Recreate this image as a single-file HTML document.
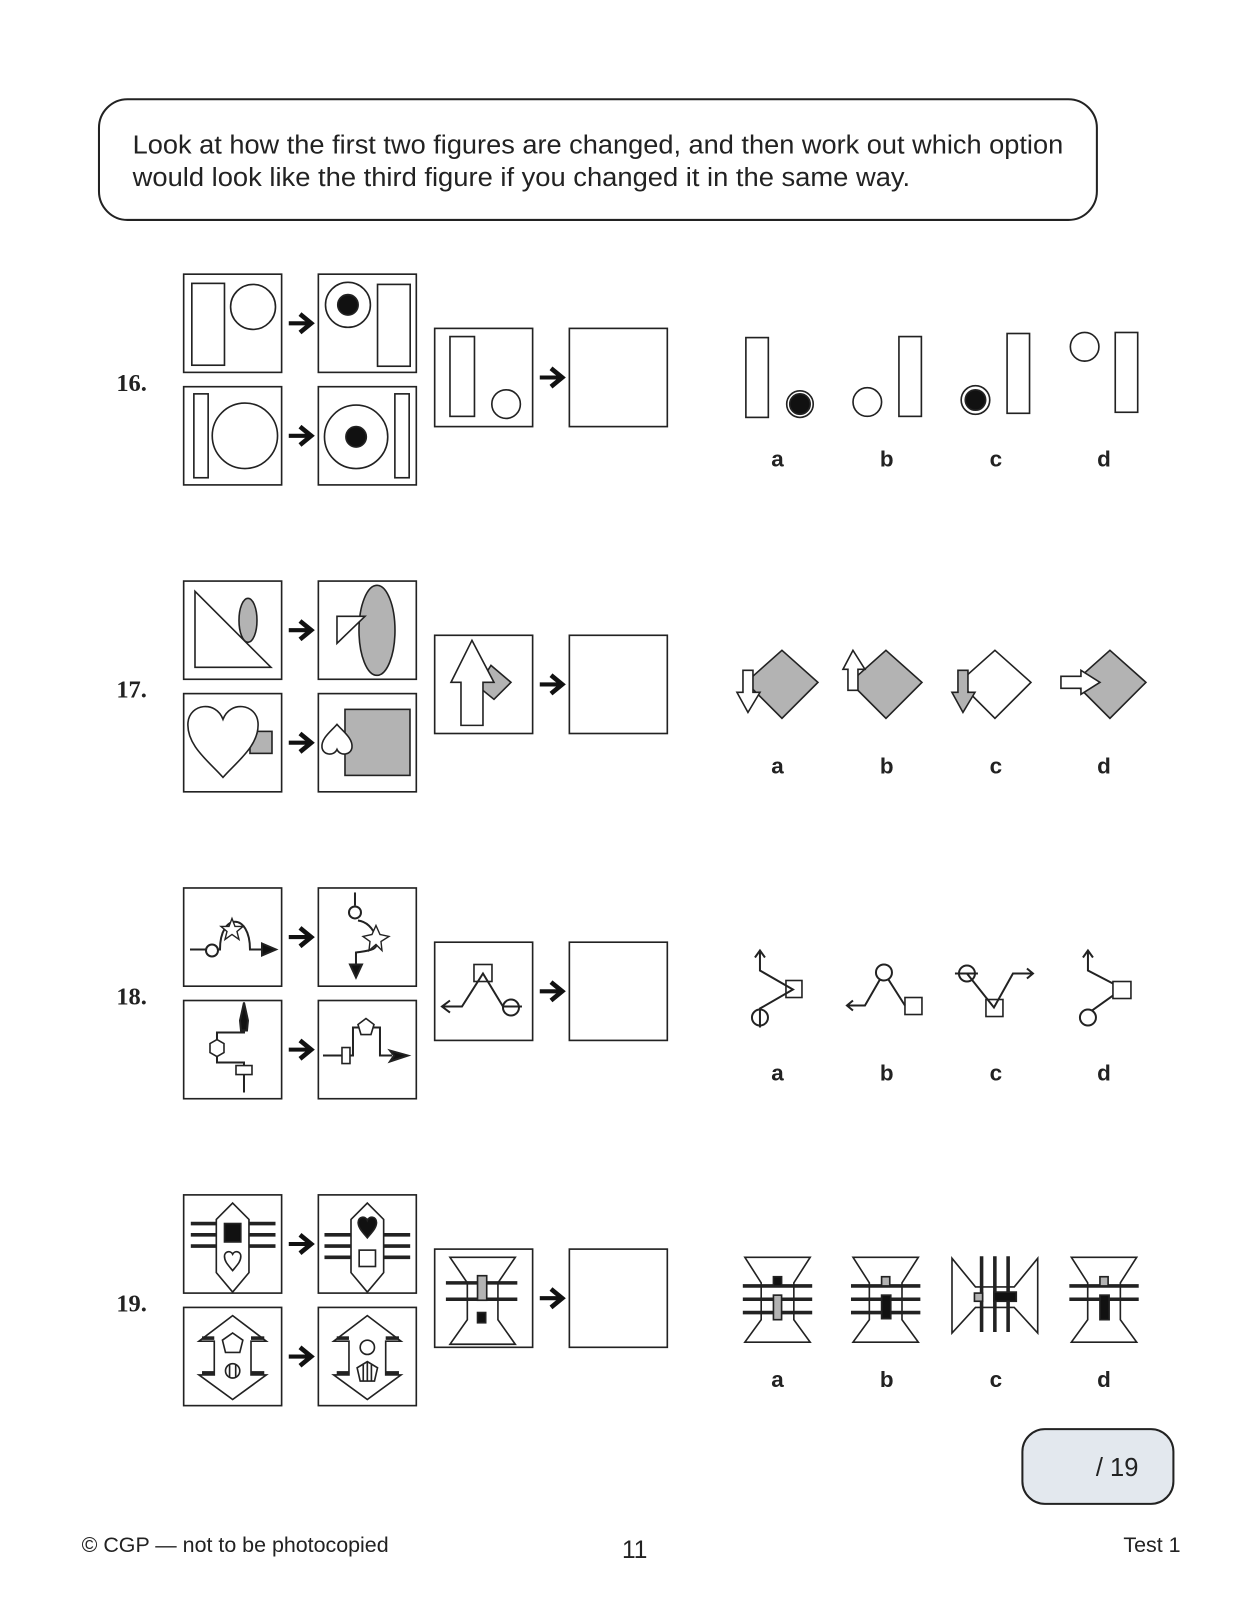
<!DOCTYPE html>
<html><head><meta charset="utf-8"><style>
html,body{margin:0;padding:0;background:#fff;}
svg{display:block;}
</style></head><body>
<svg width="1253" height="1600" viewBox="0 0 1228 1564" preserveAspectRatio="none" xmlns="http://www.w3.org/2000/svg">
<defs>
<g id="ar"><line x1="0" y1="0" x2="20" y2="0" stroke="#111" stroke-width="4"/><polyline points="11,-9 22,0 11,9" fill="none" stroke="#111" stroke-width="4.5"/></g>
</defs>
<rect width="1228" height="1564" fill="#fff"/>
<rect x="97" y="97" width="978" height="118" rx="28" fill="none" stroke="#222" stroke-width="2"/>
<g font-family="Liberation Sans, sans-serif" font-size="25" fill="#222">
<text x="130" y="150" textLength="912" lengthAdjust="spacingAndGlyphs">Look at how the first two figures are changed, and then work out which option</text>
<text x="130" y="182" textLength="762" lengthAdjust="spacingAndGlyphs">would look like the third figure if you changed it in the same way.</text>
</g>
<g font-family="Liberation Serif, serif" font-weight="bold" font-size="24" fill="#222">
<text x="114" y="382">16.</text><text x="114" y="682">17.</text><text x="114" y="982">18.</text><text x="114" y="1282">19.</text>
</g>
<g font-family="Liberation Sans, sans-serif" font-weight="bold" font-size="22" fill="#222" text-anchor="middle">
<text x="762" y="456">a</text><text x="869" y="456">b</text><text x="976" y="456">c</text><text x="1082" y="456">d</text>
<text x="762" y="756">a</text><text x="869" y="756">b</text><text x="976" y="756">c</text><text x="1082" y="756">d</text>
<text x="762" y="1056">a</text><text x="869" y="1056">b</text><text x="976" y="1056">c</text><text x="1082" y="1056">d</text>
<text x="762" y="1356">a</text><text x="869" y="1356">b</text><text x="976" y="1356">c</text><text x="1082" y="1356">d</text>
</g>
<g fill="none" stroke="#222" stroke-width="1.6">
<g id="boxes">
<rect x="180" y="268" width="96" height="96"/><rect x="312" y="268" width="96" height="96"/>
<rect x="180" y="378" width="96" height="96"/><rect x="312" y="378" width="96" height="96"/>
<rect x="426" y="321" width="96" height="96"/><rect x="558" y="321" width="96" height="96"/>
</g>
<use href="#boxes" y="300"/><use href="#boxes" y="600"/><use href="#boxes" y="900"/>
</g>
<g id="arrows"><use href="#ar" x="283" y="316"/><use href="#ar" x="283" y="426"/><use href="#ar" x="529" y="369"/></g>
<use href="#arrows" y="300"/><use href="#arrows" y="600"/><use href="#arrows" y="900"/>

<!-- Row 16 -->
<g stroke="#222" stroke-width="1.6" fill="#fff">
<rect x="188" y="277" width="32" height="80"/><circle cx="248" cy="300" r="22"/>
<circle cx="341" cy="298" r="22"/><circle cx="341" cy="298" r="10" fill="#111"/><rect x="370" y="278" width="32" height="80"/>
<rect x="190" y="385" width="14" height="82"/><circle cx="240" cy="426" r="32"/>
<circle cx="349" cy="427" r="31"/><circle cx="349" cy="427" r="10" fill="#111"/><rect x="387" y="385" width="14" height="82"/>
<rect x="441" y="329" width="24" height="78"/><circle cx="496" cy="395" r="14"/>
<rect x="731" y="330" width="22" height="78"/><circle cx="784" cy="395" r="13"/><circle cx="784" cy="395" r="10" fill="#111"/>
<circle cx="850" cy="393" r="14"/><rect x="881" y="329" width="22" height="78"/>
<circle cx="956" cy="391" r="14"/><circle cx="956" cy="391" r="10" fill="#111"/><rect x="987" y="326" width="22" height="78"/>
<circle cx="1063" cy="339" r="14"/><rect x="1093" y="325" width="22" height="78"/>
</g>

<g transform="scale(0.98,0.978)">
<!-- Row 17 -->
<g stroke="#222" stroke-width="1.6" fill="#fff">
<ellipse cx="248" cy="620" rx="9" ry="22" fill="#b3b3b3"/>
<polygon points="195,591 195,667 271,667" fill="none"/>
<ellipse cx="377" cy="630" rx="18" ry="45" fill="#b3b3b3"/>
<polygon points="337,616 365,616 337,643"/>
<rect x="250" y="731" width="22" height="22" fill="#b3b3b3"/>
<path d="M223,777 C210,762 186,745 188,722 C190,703 216,700 223,719 C230,700 256,703 258,722 C260,745 236,762 223,777 Z"/>
<rect x="345" y="709" width="65" height="66" fill="#b3b3b3"/>
<path d="M337,724 C331,731 321,738 322,747 C323,755 334,756 337,749 C340,756 351,755 352,747 C353,738 343,731 337,724 Z"/>
<polygon points="491,665 511,682 494,699 478,686" fill="#b3b3b3"/>
<polygon points="472,640 451,682 461,682 461,725 483,725 483,682 494,682"/>
<g transform="translate(0,-38)">
<polygon points="782,688 818,720 782,756 746,720" fill="#b3b3b3"/>
<polygon points="743,708 753,708 753,730 760,730 748,750 737,730 743,730"/>
<polygon points="886,688 922,720 886,756 850,720" fill="#b3b3b3"/>
<polygon points="848,728 858,728 858,707 865,707 853,688 843,707 848,707"/>
<polygon points="995,688 1031,720 995,756 959,720"/>
<polygon points="958,708 968,708 968,730 975,730 963,750 952,730 958,730" fill="#b3b3b3"/>
<polygon points="1110,688 1146,720 1110,756 1074,720" fill="#b3b3b3"/>
<polygon points="1061,714 1081,714 1081,708 1100,720 1081,732 1081,726 1061,726"/>
</g>
</g>

<!-- Row 18 -->
<g stroke="#222" stroke-width="2" fill="none">
<path d="M190,949 H220 C220,912 250,912 250,949 H262"/><circle cx="212" cy="950" r="6" fill="#fff"/>
<polygon points="262,943 276,949 262,955" fill="#111"/>
<polygon points="232,918 235,926 243,926 237,931 239,939 232,934 225,939 227,931 221,926 229,926" fill="#fff" stroke-width="1.4"/>
<path d="M355,892 V905"/><circle cx="355" cy="912" r="6" fill="#fff"/>
<path d="M358,920 C375,922 378,945 377,937 M377,940 C378,950 370,950 356,952 V965"/>
<polygon points="350,964 362,964 356,977" fill="#111"/>
<polygon points="376,925 380,934 389,936 381,941 382,950 376,944 369,950 370,941 363,936 372,934" fill="#fff" stroke-width="1.4"/>
<path d="M244,1092 V1062 H217 V1032 H244 V1015"/>
<polygon points="240,1020 244,1002 248,1020 247,1030 241,1030" fill="#111"/>
<polygon points="217,1039 224,1043 224,1052 217,1056 210,1052 210,1043" fill="#fff" stroke-width="1.6"/>
<rect x="236" y="1065" width="16" height="9" fill="#fff" stroke-width="1.6"/>
<path d="M323,1055 H353 V1027 H380 V1055 H392"/>
<rect x="342" y="1047" width="8" height="16" fill="#fff" stroke-width="1.6"/>
<polygon points="366,1018 374,1024 371,1034 361,1034 358,1024" fill="#fff" stroke-width="1.6"/>
<polygon points="390,1050 408,1055 390,1061 394,1055" fill="#111"/>
<path d="M442,1006 H462 L483,973 L503,1006 H522"/>
<polyline points="450,1000 442,1006 450,1012"/>
<rect x="474" y="964" width="18" height="17" stroke-width="1.6"/>
<circle cx="511" cy="1007" r="8"/>
<path d="M760,951 V970 L793,989 L760,1008 V1027"/><polyline points="755,957 760,950 765,957"/>
<rect x="786" y="980" width="16" height="17" stroke-width="1.6"/><circle cx="760" cy="1017" r="8"/>
<path d="M847,1005 H865 L884,972 L905,1005"/><polyline points="853,1000 847,1005 853,1010"/>
<circle cx="884" cy="972" r="8" fill="#fff"/><rect x="905" y="997" width="17" height="17" stroke-width="1.6"/>
<path d="M955,973 H978 M967,973 L994,1007 L1013,973 H1033"/><polyline points="1027,968 1033,973 1027,978"/>
<circle cx="967" cy="973" r="8"/><rect x="986" y="999" width="17" height="17" stroke-width="1.6"/>
<path d="M1088,951 V970 L1113,983 M1113,995 L1092,1010"/><polyline points="1083,957 1088,950 1093,957"/>
<rect x="1113" y="981" width="18" height="17" stroke-width="1.6"/><circle cx="1088" cy="1017" r="8"/>
</g>
</g>

<!-- Row 19 -->
<g stroke="#222" stroke-width="1.6" fill="#fff">
<g stroke-width="3.5"><line x1="187" y1="1196" x2="270" y2="1196"/><line x1="187" y1="1207" x2="270" y2="1207"/><line x1="187" y1="1218" x2="270" y2="1218"/></g>
<polygon points="228,1176 244,1192 244,1244 228,1263 212,1244 212,1192"/>
<rect x="220" y="1196" width="16" height="18" fill="#111"/>
<path d="M228,1242 C223,1236 220,1233 220,1228 C220,1223 226,1222 228,1226 C230,1222 236,1223 236,1228 C236,1233 233,1236 228,1242Z"/>
<g stroke-width="3.5"><line x1="318" y1="1207" x2="402" y2="1207"/><line x1="318" y1="1218" x2="402" y2="1218"/><line x1="318" y1="1229" x2="402" y2="1229"/></g>
<polygon points="360,1176 376,1192 376,1244 360,1263 344,1244 344,1192"/>
<path d="M360,1210 C355,1204 351,1200 351,1195 C351,1189 358,1188 360,1193 C362,1188 369,1189 369,1195 C369,1200 365,1204 360,1210Z" fill="#111"/>
<rect x="352" y="1222" width="16" height="16"/>
<polygon points="228,1286 261,1311 246,1311 246,1344 261,1344 228,1368 195,1344 210,1344 210,1311 195,1311"/>
<g stroke-width="3.5"><line x1="198" y1="1308" x2="210" y2="1308"/><line x1="246" y1="1308" x2="259" y2="1308"/><line x1="198" y1="1342" x2="210" y2="1342"/><line x1="246" y1="1342" x2="259" y2="1342"/></g>
<polygon points="228,1303 238,1310 235,1322 221,1322 218,1310"/>
<circle cx="228" cy="1340" r="7"/><path d="M225,1334 V1346 M231,1334 V1346" fill="none"/>
<polygon points="360,1286 393,1311 378,1311 378,1344 393,1344 360,1368 327,1344 342,1344 342,1311 327,1311"/>
<g stroke-width="3.5"><line x1="330" y1="1308" x2="342" y2="1308"/><line x1="378" y1="1308" x2="391" y2="1308"/><line x1="330" y1="1342" x2="342" y2="1342"/><line x1="378" y1="1342" x2="391" y2="1342"/></g>
<circle cx="360" cy="1317" r="7"/>
<polygon points="360,1331 370,1337 367,1350 353,1350 350,1337"/><path d="M356,1334 V1350 M360,1331 V1350 M364,1334 V1350" fill="none"/>
<g stroke-width="3.5"><line x1="437" y1="1254" x2="507" y2="1254"/><line x1="437" y1="1270" x2="507" y2="1270"/></g>
<polygon points="441,1229 505,1229 488,1254 488,1290 505,1314 441,1314 458,1290 458,1254" fill="none"/>
<rect x="468" y="1247" width="9" height="24" fill="#b3b3b3"/><rect x="468" y="1283" width="8" height="10" fill="#111"/>
<g stroke-width="3.5"><line x1="728" y1="1257" x2="796" y2="1257"/><line x1="728" y1="1270" x2="796" y2="1270"/><line x1="728" y1="1283" x2="796" y2="1283"/></g>
<polygon points="730,1229 794,1229 778,1254 778,1290 794,1312 730,1312 746,1290 746,1254" fill="none"/>
<rect x="758" y="1248" width="8" height="9" fill="#111"/><rect x="758" y="1266" width="8" height="24" fill="#b3b3b3"/>
<g stroke-width="3.5"><line x1="834" y1="1257" x2="902" y2="1257"/><line x1="834" y1="1270" x2="902" y2="1270"/><line x1="834" y1="1283" x2="902" y2="1283"/></g>
<polygon points="836,1229 900,1229 884,1254 884,1290 900,1312 836,1312 852,1290 852,1254" fill="none"/>
<rect x="864" y="1248" width="8" height="9" fill="#b3b3b3"/><rect x="864" y="1266" width="9" height="23" fill="#111"/>
<g stroke-width="3.5"><line x1="962" y1="1228" x2="962" y2="1302"/><line x1="975" y1="1228" x2="975" y2="1302"/><line x1="988" y1="1228" x2="988" y2="1302"/></g>
<polygon points="933,1230 956,1258 994,1258 1017,1230 1017,1303 994,1278 956,1278 933,1303" fill="none"/>
<rect x="955" y="1264" width="8" height="8" fill="#b3b3b3"/><rect x="974" y="1263" width="22" height="9" fill="#111"/>
<g stroke-width="3.5"><line x1="1048" y1="1257" x2="1116" y2="1257"/><line x1="1048" y1="1270" x2="1116" y2="1270"/></g>
<polygon points="1050,1229 1114,1229 1098,1254 1098,1290 1114,1312 1050,1312 1066,1290 1066,1254" fill="none"/>
<rect x="1078" y="1248" width="8" height="9" fill="#b3b3b3"/><rect x="1078" y="1266" width="9" height="24" fill="#111"/>
</g>

<rect x="1002" y="1397" width="148" height="73" rx="22" fill="#e3e8ee" stroke="#222" stroke-width="2"/>
<g font-family="Liberation Sans, sans-serif" fill="#222">
<text x="1074" y="1443" font-size="25">/ 19</text>
<text x="80" y="1517" font-size="21">© CGP — not to be photocopied</text>
<text x="622" y="1523" font-size="24" text-anchor="middle">11</text>
<text x="1157" y="1517" font-size="21" text-anchor="end">Test 1</text>
</g>
</svg>
</body></html>
